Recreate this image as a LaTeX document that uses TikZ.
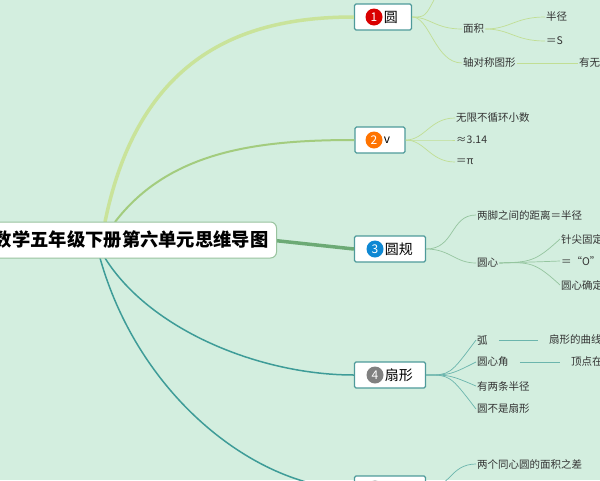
\documentclass[tikz,border=0pt]{standalone}
\usepackage{fontspec}
\setmainfont{Noto Sans CJK SC}
\definecolor{bg}{HTML}{D3EEDF}
\definecolor{gA}{HTML}{C9E39A}
\definecolor{gB}{HTML}{A3CC7E}
\definecolor{gC}{HTML}{6CAA75}
\definecolor{tD}{HTML}{3E9C98}
\definecolor{boxline}{HTML}{4E9A9A}
\begin{document}
\begin{tikzpicture}[x=1pt,y=-1pt,
    topic/.style={draw=boxline,line width=1.2pt,fill=white,rounded corners=1.5pt,minimum height=26pt,inner sep=3pt,font=\fontsize{13}{13}\selectfont},
    leaf/.style={anchor=west,inner sep=1pt,font=\fontsize{10.5}{10.5}\selectfont,text=black!80},
    num/.style={circle,fill=#1,text=white,inner sep=0pt,minimum size=17pt,font=\fontsize{12}{12}\selectfont},
    sub/.style={line width=0.7pt}]

  \fill[bg] (0,0) rectangle (600,480);
  \useasboundingbox (0,0) rectangle (600,480);
  \clip (0,0) rectangle (600,480);

  % main branches
  \coordinate (r1) at (105,222);
  \coordinate (r4) at (105,258);
  \node[topic,minimum width=57pt] (t1) at (383,17) {};
  \node[num=red!85!black] (n1) at ([xshift=-9pt]t1.center) {1};
  \node[anchor=west,inner sep=1pt,font=\fontsize{14}{14}\selectfont] (l1) at (n1.east) {圆};
  \node[topic,minimum width=50pt] (t2) at (380,140) {};
  \node[num=orange!90!red] (n2) at ([xshift=-6pt]t2.center) {2};
  \node[anchor=west,inner sep=1pt,font=\fontsize{12}{12}\selectfont] (l2) at (n2.east) {v};
  \node[topic,minimum width=71pt] (t3) at (390,249) {};
  \node[num=cyan!70!blue] (n3) at ([xshift=-15pt]t3.center) {3};
  \node[anchor=west,inner sep=1pt,font=\fontsize{14}{14}\selectfont] (l3) at (n3.east) {圆规};
  \node[topic,minimum width=71pt] (t4) at (390,375) {};
  \node[num=gray] (n4) at ([xshift=-15pt]t4.center) {4};
  \node[anchor=west,inner sep=1pt,font=\fontsize{14}{14}\selectfont] (l4) at (n4.east) {扇形};
  \node[topic,minimum width=71pt] (t5) at (390,489) {};
  \node[num=gray] (n5) at ([xshift=-15pt]t5.center) {};

  \draw[gA,line width=3.5pt] (r1) .. controls (140,50) and (250,17) .. (t1.west);
  \draw[gB,line width=2pt] (115,222) .. controls (170,150) and (260,140) .. (t2.west);
  \draw[gC,line width=3.5pt] (270,240) -- (t3.west);
  \draw[tD,line width=1.5pt] (r4) .. controls (150,330) and (260,375) .. (t4.west);
  \draw[tD,line width=1.5pt] (100,258) .. controls (140,400) and (260,489) .. (t5.west);

  % root
  \node[draw=gC!70,line width=1pt,fill=white,rounded corners=6pt,anchor=east,minimum height=36pt,inner xsep=8pt,
        font=\fontsize{18.3}{18.3}\selectfont\bfseries] (root) at (277,240) {数学五年级下册第六单元思维导图};

  % topic 1
  \node[leaf] (a1) at (462,29) {面积};
  \node[leaf] (a2) at (462,63) {轴对称图形};
  \node[leaf] (a11) at (545,17) {半径};
  \node[leaf] (a12) at (545,41) {＝S};
  \node[leaf] (a21) at (578,63) {有无};
  \coordinate (a0) at (435,-2);
  \begin{scope}[gA!80!gB,sub]
    \draw (t1.east) .. controls (425,17) .. (a0);
    \draw (t1.east) .. controls (430,17) and (435,29) .. (a1.west);
    \draw (t1.east) .. controls (430,17) and (435,63) .. (a2.west);
    \draw (a1.east) .. controls (510,29) and (515,17) .. (a11.west);
    \draw (a1.east) .. controls (510,29) and (515,41) .. (a12.west);
    \draw (a2.east) -- (a21.west);
  \end{scope}

  % topic 2
  \node[leaf] (b1) at (455,118) {无限不循环小数};
  \node[leaf] (b2) at (455,140) {≈3.14};
  \node[leaf] (b3) at (455,162) {＝π};
  \begin{scope}[gA!80!gB,sub]
    \foreach \k in {b1,b2,b3}
      \draw (t2.east) .. controls (425,140) and ([xshift=-25pt]\k.west) .. (\k.west);
  \end{scope}

  % topic 3
  \node[leaf] (c1) at (476,215) {两脚之间的距离＝半径};
  \node[leaf] (c2) at (476,263) {圆心};
  \node[leaf] (c21) at (560,239) {针尖固定};
  \node[leaf] (c22) at (560,261) {＝“O”};
  \node[leaf] (c23) at (560,285) {圆心确定};
  \begin{scope}[gC!60!bg,sub]
    \draw (t3.east) .. controls (455,249) and (450,215) .. (c1.west);
    \draw (t3.east) .. controls (450,249) and (455,263) .. (c2.west);
    \foreach \k in {c21,c22,c23}
      \draw (c2.east) .. controls (530,262) and (535,262) .. (\k.west);
  \end{scope}

  % topic 4
  \node[leaf] (d1) at (476,340) {弧};
  \node[leaf] (d2) at (476,362) {圆心角};
  \node[leaf] (d3) at (476,386) {有两条半径};
  \node[leaf] (d4) at (476,409) {圆不是扇形};
  \node[leaf] (d11) at (548,340) {扇形的曲线};
  \node[leaf] (d21) at (570,362) {顶点在};
  \begin{scope}[tD!70!bg,sub]
    \foreach \k in {d1,d2,d3,d4}
      \draw (t4.east) .. controls (450,375) and (450,375) .. (\k.west);
    \draw ([xshift=10pt]d1.east) -- ([xshift=-10pt]d11.west);
    \draw ([xshift=10pt]d2.east) -- ([xshift=-10pt]d21.west);
  \end{scope}

  % topic 5
  \node[leaf] (e1) at (476,464) {两个同心圆的面积之差};
  \draw[tD!70!bg,sub] (t5.east) .. controls (450,489) and (450,464) .. (e1.west);
\end{tikzpicture}
\end{document}
